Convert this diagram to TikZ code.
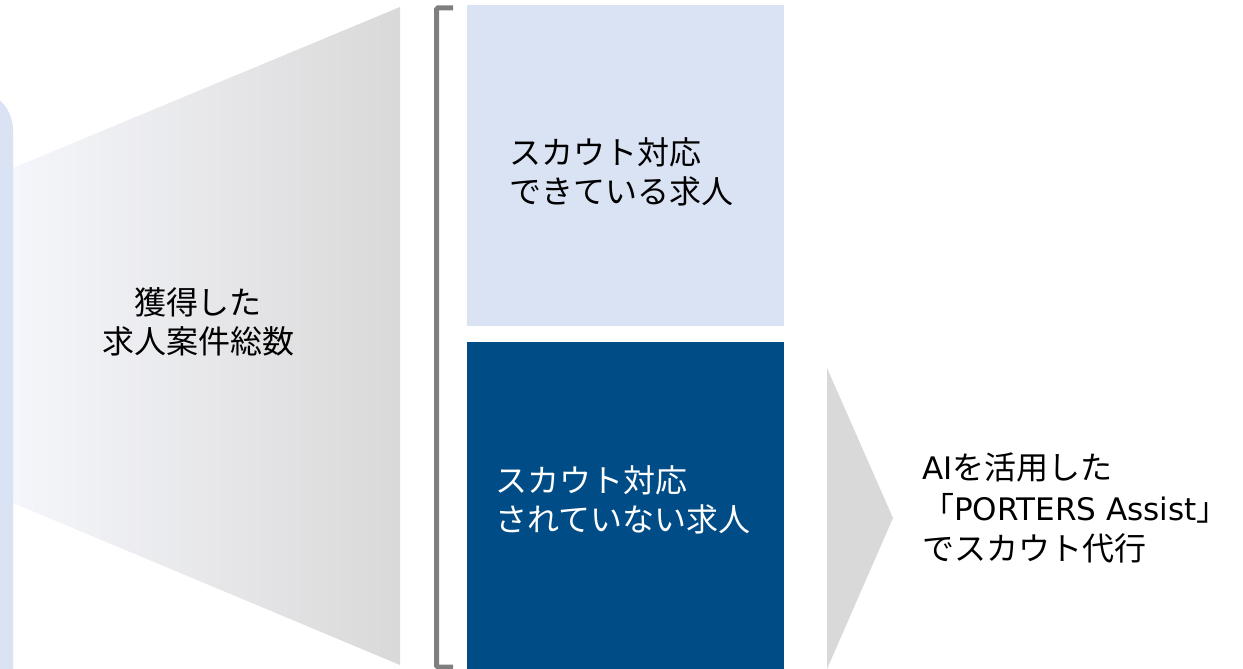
\documentclass[tikz,border=0pt]{standalone}
\usepackage{fontspec}
\setmainfont{Noto Sans CJK JP}
\newfontfamily\latinfont[Scale=0.97]{DejaVu Sans}
\usetikzlibrary{positioning}

\definecolor{paleblue}{RGB}{218,227,243}
\definecolor{navy}{RGB}{0,76,134}
\definecolor{midgray}{RGB}{217,217,217}
\definecolor{bracketgray}{RGB}{127,127,127}
\definecolor{fadeblue}{RGB}{245,246,251}

\begin{document}
\begin{tikzpicture}[x=1pt,y=-1pt,
    jobbox/.style={minimum width=317pt, inner sep=0pt, anchor=north west},
    txt/.style={font=\fontsize{32}{39}\selectfont, inner sep=0pt, align=left}]
        \useasboundingbox (0,0) rectangle (1243,669);
        % funnel and the panel on the left
        \shade[left color=fadeblue, right color=midgray]
            (13,168) -- (400,7) -- (400,665) -- (13,503) -- cycle;
        \fill[paleblue, rounded corners=40pt] (-80,90) rectangle (13,760);
        % bracket
        \draw[bracketgray, line width=5pt, rounded corners=1.5pt]
            (453,8) -- (436.5,8) -- (436.5,667) -- (453,667);
        % the two groups of jobs
        \node[jobbox, fill=paleblue, minimum height=321pt] (done) at (467,5) {};
        \node[jobbox, fill=navy, minimum height=327pt] (todo) at (467,342) {};
        % arrow
        \fill[midgray] (827,368) -- (893,518) -- (827,669) -- cycle;
        % texts
        \node[txt, align=center] (total) at (198,322) {獲得した\\求人案件総数};
        \node[txt, anchor=west] (donetxt) at (509,172) {スカウト対応\\できている求人};
        \node[txt, anchor=west, text=white] (todotxt) at (495,500) {スカウト対応\\されていない求人};
        \node[txt, anchor=west, font=\fontsize{32}{40.5}\selectfont] (ai) at (922,508)
            {{\latinfont AI}を活用した\\「{\latinfont PORTERS Assist}」\\でスカウト代行};
\end{tikzpicture}
\end{document}
